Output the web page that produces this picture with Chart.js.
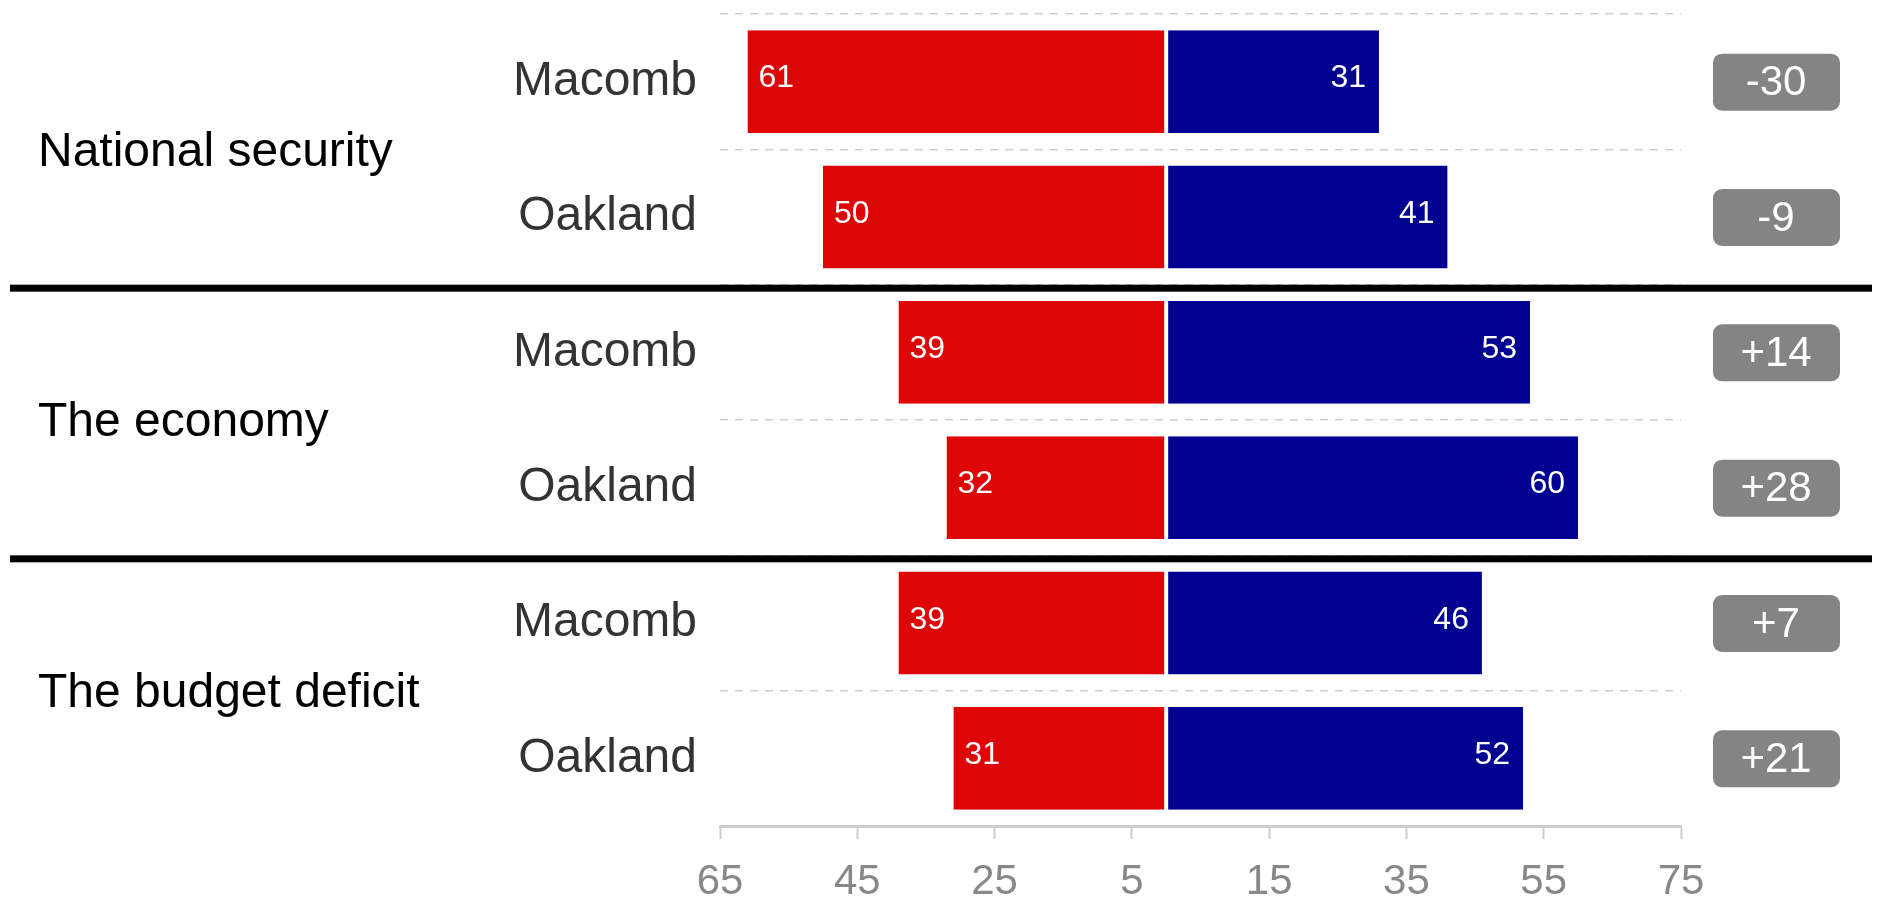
<!DOCTYPE html>
<html>
<head>
<meta charset="utf-8">
<script src="https://cdn.jsdelivr.net/npm/chart.js@4/dist/chart.umd.min.js"></script>
<style>
  html, body { margin: 0; padding: 0; background: #fff; }
  #wrap { width: 1883px; height: 897px; }
</style>
</head>
<body>
<div id="wrap"><canvas id="chart" width="1883" height="897"></canvas></div>
<script>
const counties = ["Macomb", "Oakland", "Macomb", "Oakland", "Macomb", "Oakland"];
const issues = ["National security", "The economy", "The budget deficit"];
const redShare = [61, 50, 39, 32, 39, 31];
const blueShare = [31, 41, 53, 60, 46, 52];
const tickValues = [-65, -45, -25, -5, 15, 35, 55, 75];

const FONT = "'Liberation Sans', Arial, sans-serif";

// labels inside the bars
const barLabels = {
  id: "barLabels",
  afterDatasetsDraw(chart) {
    const c = chart.ctx;
    c.save();
    c.font = "32px " + FONT;
    c.fillStyle = "#fff";
    c.textBaseline = "middle";
    chart.getDatasetMeta(0).data.forEach((bar, i) => {
      c.textAlign = "left";
      c.fillText(redShare[i], bar.x + 11, bar.y - 3);
    });
    chart.getDatasetMeta(1).data.forEach((bar, i) => {
      c.textAlign = "right";
      c.fillText(blueShare[i], bar.x - 13, bar.y - 3);
    });
    c.restore();
  },
};

// group labels, separators and difference boxes
const decorations = {
  id: "decorations",
  afterDraw(chart) {
    const c = chart.ctx;
    const y = chart.scales.y;
    c.save();

    // thick separators between issues
    c.fillStyle = "#000";
    [2, 4].forEach((i) => {
      const yy = (y.getPixelForValue(i - 1) + y.getPixelForValue(i)) / 2;
      c.fillRect(10, yy, 1862, 7);
    });

    // issue names
    c.font = "48px " + FONT;
    c.fillStyle = "#000";
    c.textAlign = "left";
    c.textBaseline = "middle";
    issues.forEach((name, g) => {
      const yy = (y.getPixelForValue(g * 2) + y.getPixelForValue(g * 2 + 1)) / 2;
      c.fillText(name, 38, yy + 3);
    });

    // difference boxes
    c.font = "42px " + FONT;
    c.textAlign = "center";
    counties.forEach((_, i) => {
      const d = blueShare[i] - redShare[i];
      const cy = y.getPixelForValue(i);
      c.fillStyle = "#848484";
      c.beginPath();
      c.roundRect(1713, cy - 28, 127, 57, 9);
      c.fill();
      c.fillStyle = "#fff";
      c.fillText((d > 0 ? "+" : "") + d, 1776, cy + 2);
    });
    c.restore();
  },
};

new Chart(document.getElementById("chart"), {
  type: "bar",
  data: {
    labels: counties,
    datasets: [
      {
        data: redShare.map((v) => -v),
        backgroundColor: "#dd0505",
        borderColor: "#fff",
        borderWidth: { right: 2 },
        borderSkipped: false,
      },
      {
        data: blueShare,
        backgroundColor: "#000091",
        borderColor: "#fff",
        borderWidth: { left: 2 },
        borderSkipped: false,
      },
    ],
  },
  options: {
    indexAxis: "y",
    responsive: false,
    animation: false,
    barPercentage: 0.76,
    categoryPercentage: 1,
    layout: { padding: { top: 14, right: 202, left: 0, bottom: 0 } },
    plugins: { legend: { display: false }, tooltip: { enabled: false } },
    scales: {
      x: {
        stacked: true,
        min: -65,
        max: 75,
        afterBuildTicks: (s) => {
          s.ticks = tickValues.map((v) => ({ value: v }));
        },
        afterFit: (s) => {
          s.height = 71;
        },
        grid: {
          drawOnChartArea: false,
          drawTicks: true,
          tickLength: 13,
          tickColor: "#cccccc",
          tickWidth: 2,
        },
        border: { display: true, color: "#cccccc", width: 3 },
        ticks: {
          autoSkip: false,
          maxRotation: 0,
          padding: 18,
          color: "#888888",
          font: { family: FONT, size: 42 },
          callback: (v) => Math.abs(v),
        },
      },
      y: {
        stacked: true,
        afterFit: (s) => {
          s.width = 720;
          s.paddingTop = 0;
          s.paddingBottom = 0;
        },
        grid: {
          drawTicks: false,
          color: "#cfcfcf",
          lineWidth: 1.5,
        },
        border: { display: false, dash: [8, 7] },
        ticks: {
          padding: 23,
          color: "#333333",
          font: { family: FONT, size: 48 },
        },
      },
    },
  },
  plugins: [barLabels, decorations],
});
</script>
</body>
</html>
